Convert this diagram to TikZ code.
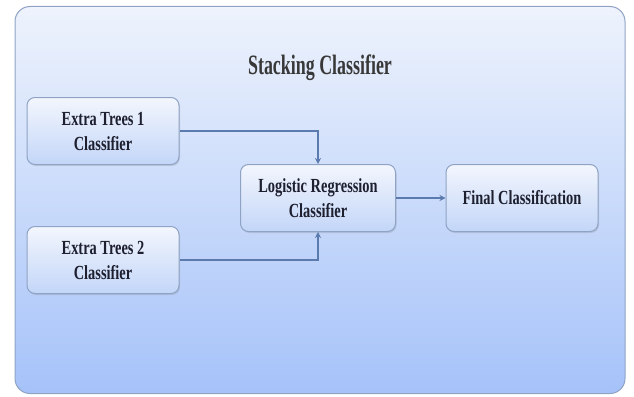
\documentclass[tikz,border=0pt]{standalone}
\usepackage{fontspec}
\setmainfont{Liberation Serif}
\newfontfamily\narrowfont[FakeStretch=0.72]{Liberation Serif}
\newfontfamily\titlefont[FakeStretch=0.64]{Liberation Serif}
\usepackage{tikz}
\usetikzlibrary{positioning, arrows.meta, shadows}

\definecolor{framecol}{HTML}{8FA3C4}
\definecolor{bgtop}{HTML}{EEF3FC}
\definecolor{bgbot}{HTML}{A5C2F9}
\definecolor{boxtop}{HTML}{F3F6FD}
\definecolor{boxbot}{HTML}{C3D6F8}
\definecolor{linecol}{HTML}{5B7BAE}
\definecolor{txtcol}{HTML}{1E2030}

\begin{document}
\begin{tikzpicture}[x=1pt, y=-1pt, >={Stealth[length=6pt,width=6pt]}]
        \tikzset{clfbox/.style={draw=framecol, line width=1pt, rounded corners=8pt,
                top color=boxtop, bottom color=boxbot, align=center, text=txtcol,
                minimum width=152pt, minimum height=67pt, inner sep=2pt,
                font=\narrowfont\bfseries\fontsize{20}{25}\selectfont,
                drop shadow={shadow xshift=1pt, shadow yshift=-1.5pt, opacity=0.25}}}
        \tikzset{link/.style={draw=linecol, line width=1.8pt}}
        \useasboundingbox (0,0) rectangle (634,396);

        % Outer panel
        \node[draw=framecol, line width=1pt, rounded corners=15pt,
              top color=bgtop, bottom color=bgbot,
              minimum width=610pt, minimum height=387pt, inner sep=0pt] (panel) at (320,200) {};
        \node[font=\titlefont\bfseries\fontsize{28}{32}\selectfont, text=black!78] (title) at (320,68) {Stacking Classifier};

        \node[clfbox] (et_1) at (103,131) {Extra Trees 1\\Classifier};
        \node[clfbox] (et_2) at (103,260) {Extra Trees 2\\Classifier};
        \node[clfbox, minimum width=155pt] (lr) at (318,198) {Logistic Regression\\Classifier};
        \node[clfbox] (final) at (522,198) {Final Classification};

        % Connectors
        \draw[link, ->] (et_1.east) -| (lr.north);
        \draw[link, ->] (et_2.east) -| (lr.south);
        \draw[link, ->] (lr) -- (final);
    \end{tikzpicture}
\end{document}
